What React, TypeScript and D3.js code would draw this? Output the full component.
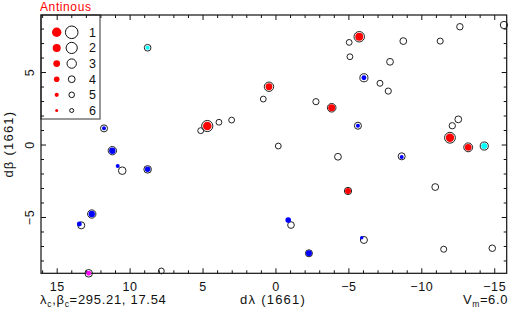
import React from 'react';
import * as d3 from 'd3';

// open circles: positions of the stars (1661)
const circleLam = [8.80, 0.48, 4.71, -5.71, -3.82, -11.93, -13.18, -14.28, -4.94, -6.03, -5.62, -8.62, -2.26, -1.03, -6.03,
  11.79, 11.22, 10.54, 8.80, 12.63, 13.35, 12.84,
  5.16, 3.91, 3.04, 0.87, -0.16, 7.86, -15.63, -12.61, -5.02, -8.73, -11.26, -5.07, -7.82, -7.13, -7.70, -2.74,
  -12.50, -12.09, -4.25, -10.92, -11.50, -14.83];
const circleBet = [6.71, 4.02, 1.31, 7.47, 2.57, 0.50, -0.16, -0.07, -3.17, 4.64, 1.33, -0.78, -7.47, -5.52, -6.55,
  1.15, -0.39, -1.77, -1.68, -4.76, -5.54, -8.85,
  0.99, 1.57, 1.72, 3.17, -0.07, -8.69, 8.28, 8.16, 7.08, 7.17, 7.17, 6.09, 5.74, 4.26, 3.72, 2.99,
  1.77, 1.33, -0.81, -2.90, -7.19, -7.12];
const circleMag = [4.1, 3.0, 2.0, 2.4, 3.3, 2.2, 3.2, 3.5, 3.8, 3.5, 3.9, 3.9, 3.9, 4.1, 3.9,
  3.9, 3.4, 3.7, 3.7, 3.4, 3.9, 3.7,
  4.7, 4.8, 4.8, 4.8, 4.8, 4.8, 3.8, 4.3, 4.8, 4.0, 4.6, 4.8, 4.0, 4.7, 4.5, 4.5,
  4.0, 4.4, 4.0, 4.0, 4.6, 4.2];

// filled dots: identified stars
const dotLam = [8.80, 0.48, 4.71, -5.71, -3.82, -11.93, -13.18, -14.28, -4.94, -6.03, -5.62, -8.62, -2.26, -0.84, -5.88,
  11.79, 11.22, 10.85, 8.80, 12.63, 13.48, 12.84];
const dotBet = [6.71, 4.02, 1.31, 7.47, 2.57, 0.50, -0.16, -0.07, -3.17, 4.64, 1.33, -0.82, -7.47, -5.17, -6.39,
  1.15, -0.39, -1.45, -1.68, -4.76, -5.45, -8.85];
const dotMag = [5.0, 3.0, 1.6, 2.0, 2.8, 1.7, 3.0, 3.7, 3.7, 4.5, 5.2, 5.2, 3.7, 4.0, 5.6,
  5.2, 3.3, 5.2, 4.0, 3.3, 4.5, 4.5];
const dotColor = ['cyan', 'red', 'red', 'red', 'red', 'red', 'red', 'cyan', 'red', 'blue', 'blue', 'blue', 'blue', 'blue', 'blue',
  'blue', 'blue', 'blue', 'blue', 'blue', 'blue', 'magenta'];

const xTicks = [15, 10, 5, 0, -5, -10, -15];
const yTicks = [-5, 0, 5];
const legendMags = [1, 2, 3, 4, 5, 6];

const colors: any = { red: '#ff0000', blue: '#0000ff', cyan: '#00ffff', magenta: '#ff00ff' };

export default function App() {
  const left = 41, right = 506.7, top = 15, bottom = 273.3;
  const x = d3.scaleLinear().domain([16.11, -15.82]).range([left, right]);
  const y = d3.scaleLinear().domain([-8.85, 8.97]).range([bottom, top]);
  const openR = d3.scaleLinear().domain(legendMags).range([6.3, 5.6, 4.7, 3.4, 2.8, 2]);
  const fillR = d3.scaleLinear().domain(legendMags).range([4.7, 4, 3.4, 2.8, 2.1, 1.5]);
  const fmt = d3.format('d');

  const xMinor = d3.range(-15, 17, 1);
  const yMinor = d3.range(-8, 9, 1);
  const font = 'Liberation Sans, Arial, sans-serif';

  const legRow = d3.scaleLinear().domain([1, 6]).range([32.3, 110.5]);

  return (
    <div style={{ position: 'absolute', left: 0, top: 0 }}>
      <svg width={509} height={315} style={{ display: 'block' }} fontFamily={font}>
        <rect x={0} y={0} width={509} height={315} fill="white" />
        <text x={40} y={10.5} fontSize={12} fill="#ff0000" letterSpacing={0.6}>Antinous</text>

        {/* legend */}
        <rect x={left} y={top} width={59} height={104} fill="white" stroke="#777" strokeWidth={1.5} />
        {legendMags.map(m => (
          <g key={'leg' + m}>
            <circle cx={56.7} cy={legRow(m)} r={fillR(m)} fill="#ff0000" />
            <circle cx={71.7} cy={legRow(m)} r={openR(m)} fill="none" stroke="#111" strokeWidth={1} />
            <text x={89} y={legRow(m) + 4.3} fontSize={12.5} fill="#111">{m}</text>
          </g>
        ))}

        {/* ticks */}
        {xMinor.map(v => {
          const len = v % 5 === 0 ? 5 : 3;
          return (
            <g key={'xt' + v} stroke="#111" strokeWidth={1}>
              <line x1={x(v)} x2={x(v)} y1={bottom} y2={bottom - len} />
              <line x1={x(v)} x2={x(v)} y1={top} y2={top + len} />
            </g>
          );
        })}
        {yMinor.map(v => {
          const len = v % 5 === 0 ? 5 : 3;
          return (
            <g key={'yt' + v} stroke="#111" strokeWidth={1}>
              <line x1={left} x2={left + len} y1={y(v)} y2={y(v)} />
              <line x1={right} x2={right - len} y1={y(v)} y2={y(v)} />
            </g>
          );
        })}
        <rect x={left} y={top} width={right - left} height={bottom - top} fill="none" stroke="#111" strokeWidth={1.2} />

        {/* tick labels */}
        {xTicks.map(v => (
          <text key={'xl' + v} x={x(v)} y={290.5} fontSize={12.5} letterSpacing={0.6} textAnchor="middle" fill="#111">{fmt(v)}</text>
        ))}
        {yTicks.map(v => (
          <text key={'yl' + v} transform={`translate(33.5,${y(v)}) rotate(-90)`} fontSize={12.5} letterSpacing={0.6} textAnchor="middle" fill="#111">{fmt(v)}</text>
        ))}

        {/* stars */}
        {circleLam.map((l, i) => (
          <circle key={'c' + i} cx={x(l)} cy={y(circleBet[i])} r={openR(circleMag[i])} fill="none" stroke="#222" strokeWidth={1} />
        ))}
        {dotLam.map((l, i) => (
          <circle key={'d' + i} cx={x(l)} cy={y(dotBet[i])} r={fillR(dotMag[i])} fill={colors[dotColor[i]]} />
        ))}

        {/* axis titles */}
        <text transform={`translate(13,${(top + bottom) / 2}) rotate(-90)`} fontSize={13} letterSpacing={1.2} textAnchor="middle" fill="#111">
          dβ<tspan dx={5}>(1661)</tspan>
        </text>
        <text x={273} y={304} fontSize={13} letterSpacing={1.2} textAnchor="middle" fill="#111">
          dλ<tspan dx={5}>(1661)</tspan>
        </text>
        <text x={40} y={304} fontSize={13} letterSpacing={0.7} fill="#111">
          λ<tspan fontSize={8.5} dy={2.5}>c</tspan><tspan dy={-2.5}>,β</tspan><tspan fontSize={8.5} dy={2.5}>c</tspan><tspan dy={-2.5}>=295.21, 17.54</tspan>
        </text>
        <text x={508} y={304} fontSize={13} letterSpacing={0.6} textAnchor="end" fill="#111">
          V<tspan fontSize={8.5} dy={2.5}>m</tspan><tspan dy={-2.5}>=6.0</tspan>
        </text>
      </svg>
    </div>
  );
}
